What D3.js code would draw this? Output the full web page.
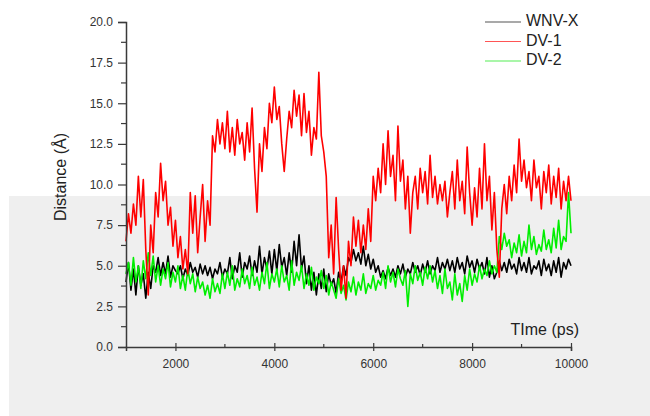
<!DOCTYPE html>
<html><head><meta charset="utf-8">
<script src="https://cdn.jsdelivr.net/npm/d3@7"></script>
<style>html,body{margin:0;padding:0;background:#fff;}svg{display:block;}</style>
</head><body>
<svg id="chart" width="650" height="416"></svg>
<script>
const tStart = 1000, tStep = 50;
const seriesNames = ["WNV-X", "DV-1", "DV-2"];
const xTicks = [2000, 4000, 6000, 8000, 10000];
const yTicks = [0, 2.5, 5, 7.5, 10, 12.5, 15, 17.5, 20];

const wnvx = [
4.0,5.2,3.5,4.8,3.2,5.0,3.8,4.5,3.0,4.6,3.6,
5.0,4.6,5.5,4.4,5.2,4.5,5.6,4.3,5.0,4.7,
4.5,5.0,4.2,4.8,4.4,5.2,4.6,4.9,4.3,5.1,
4.5,5.0,4.4,4.9,4.2,4.8,4.5,5.2,4.3,4.8,
4.5,5.5,4.2,5.0,4.6,5.8,4.3,5.2,4.8,5.6,
4.4,5.3,4.6,6.2,4.5,5.5,4.8,5.9,4.5,6.0,
4.7,6.3,4.9,5.5,4.4,5.8,4.6,6.5,5.0,6.9,
4.8,5.6,3.9,5.0,3.5,4.6,3.2,4.5,3.6,4.8,
3.4,4.5,3.8,4.2,3.3,4.6,4.0,5.0,4.4,5.5,
5.2,6.0,5.3,5.8,5.1,6.2,5.0,5.7,4.8,5.4,
4.6,5.0,4.3,4.7,4.2,4.9,4.4,4.8,4.3,5.0,
4.5,5.1,4.3,4.8,4.5,5.2,4.6,5.0,4.4,5.1,
4.6,5.3,4.5,5.0,4.7,5.5,4.6,5.2,4.8,5.4,
4.7,5.3,4.6,5.5,4.8,5.2,4.5,5.6,4.9,5.3,
4.6,5.4,4.8,5.2,4.5,5.5,4.3,5.0,4.2,4.6,
5.3,4.7,5.2,4.6,5.4,4.8,5.1,4.5,5.5,4.7,
5.2,4.6,5.5,4.5,5.0,4.8,5.3,4.4,5.4,4.7,
5.1,4.4,5.3,4.6,5.5,4.3,5.2,4.8,5.4,5.0];

const dv1 = [
6.5,8.2,7.0,8.8,7.5,10.5,8.0,10.3,6.0,3.2,7.5,
5.8,9.5,8.0,11.3,9.0,10.2,7.5,8.6,6.2,7.8,
5.5,6.8,4.8,6.0,4.5,9.5,7.0,9.3,5.8,8.0,
10.0,6.5,9.0,7.5,13.0,12.0,14.0,12.5,13.8,12.2,
14.5,12.0,13.5,11.8,14.0,12.5,13.2,11.5,13.8,12.0,
14.7,11.0,8.3,12.5,10.8,13.5,12.2,15.0,13.8,16.0,
14.0,14.8,12.5,10.8,12.8,14.5,13.5,15.8,14.2,15.5,
13.0,15.6,13.2,14.5,11.8,13.5,12.8,16.9,13.0,12.0,
10.5,5.5,7.5,4.5,9.2,6.0,3.5,5.0,3.0,6.5,
5.0,8.0,6.2,7.8,5.8,7.5,6.0,8.5,6.5,10.5,
9.0,11.0,9.5,12.5,10.0,13.3,10.5,11.8,9.0,13.6,
10.2,11.5,8.5,10.5,7.0,9.5,10.5,8.5,11.0,9.5,
10.8,8.8,11.8,9.2,10.5,8.8,10.0,9.0,10.2,8.0,
9.5,10.8,8.5,11.5,9.0,10.2,8.2,12.3,9.5,7.5,
9.8,8.0,11.0,8.5,12.5,9.0,10.5,7.2,9.5,6.0,
4.3,8.5,10.0,8.2,10.5,9.0,11.2,9.5,12.8,10.2,
11.5,9.8,10.8,9.0,11.5,9.8,10.5,8.5,10.8,9.5,
11.2,8.8,10.5,9.2,11.0,8.5,10.2,9.0,10.5,9.0];

const dv2 = [
4.5,5.2,3.8,5.5,4.0,5.0,3.6,5.3,4.2,5.8,4.4,
5.6,4.0,5.0,3.8,4.8,4.2,5.2,3.7,4.6,4.0,
5.0,3.6,4.4,3.5,4.8,3.9,4.5,3.4,4.3,3.6,
4.0,3.2,3.8,3.0,4.2,3.4,3.9,3.3,4.5,3.6,
4.6,3.8,5.0,3.5,4.2,3.7,4.8,3.9,4.4,3.6,
4.9,3.8,4.3,3.5,4.6,3.9,5.2,3.6,4.5,4.0,
4.8,3.7,5.0,4.0,4.4,3.5,5.3,3.8,4.6,4.1,
5.0,3.6,4.5,3.8,4.9,3.5,4.3,3.9,4.7,3.6,
4.4,3.2,4.0,3.5,3.0,4.2,3.3,3.8,2.9,4.0,
3.4,4.3,3.2,4.0,3.5,4.5,3.3,3.9,3.6,4.4,
3.5,4.1,3.8,4.6,3.6,5.0,4.0,4.6,3.7,4.8,
4.2,3.8,4.7,2.5,4.5,3.9,5.0,4.1,4.6,3.8,
4.9,4.2,5.0,4.0,4.7,3.6,4.4,3.3,4.8,3.6,
4.0,2.9,4.5,3.2,3.9,2.8,4.4,3.5,4.8,3.8,
4.5,4.0,5.0,4.2,4.8,4.4,5.3,4.5,5.0,4.6,
6.8,6.0,7.0,6.2,6.6,5.5,6.4,5.8,6.9,5.6,
6.5,5.8,7.5,6.0,6.8,5.7,6.3,5.9,7.2,6.0,
6.6,5.8,7.3,6.1,7.8,6.0,6.8,6.5,9.5,7.0];

const colors = ["#000000", "#ff0000", "#00ee00"];
const allSeries = [wnvx, dv1, dv2];

const svg = d3.select("#chart");
const font = "'Liberation Sans', Arial, sans-serif";

// background gray band
svg.append("rect").attr("x", 9).attr("y", 196).attr("width", 641).attr("height", 220).attr("fill", "#efefef");

const x = d3.scaleLinear().domain([1000, 10000]).range([126, 571]);
const y = d3.scaleLinear().domain([0, 20]).range([347, 22]);

const line = d3.line()
  .x((d, i) => x(tStart + i * tStep))
  .y(d => y(d));

// draw order: black, green, red
[0, 2, 1].forEach(k => {
  svg.append("path")
    .datum(allSeries[k])
    .attr("fill", "none")
    .attr("stroke", colors[k])
    .attr("stroke-width", 1.6)
    .attr("stroke-linejoin", "round")
    .attr("d", line);
});

// Y axis
const yAxis = d3.axisLeft(y).tickValues(yTicks).tickFormat(d3.format(".1f")).tickSize(8).tickPadding(5);
const gy = svg.append("g").attr("transform", "translate(126,0)").call(yAxis);
const yMinor = d3.range(1.25, 20, 2.5);
gy.selectAll(".minor").data(yMinor).enter().append("line")
  .attr("x1", -5).attr("x2", 0).attr("y1", d => y(d)).attr("y2", d => y(d));

// X axis
const xAxis = d3.axisBottom(x).tickValues(xTicks).tickFormat(d3.format("d")).tickSize(4).tickPadding(8);
const gx = svg.append("g").attr("transform", "translate(0,347)").call(xAxis);
gx.selectAll(".tick line").attr("y1", -4);
const xMinor = [3000, 5000, 7000, 9000];
gx.selectAll(".minor").data(xMinor).enter().append("line")
  .attr("y1", -3).attr("y2", 0).attr("x1", d => x(d)).attr("x2", d => x(d));

[gx, gy].forEach(g => {
  g.select(".domain").attr("stroke", "#3a3a3a").attr("stroke-width", 1.5);
  g.selectAll("line").attr("stroke", "#3a3a3a").attr("stroke-width", 1.2);
  g.selectAll("text").attr("fill", "#333").style("font-family", font).style("font-size", "12px");
});

// axis titles
svg.append("text")
  .attr("transform", "translate(62,177) rotate(-90)")
  .attr("text-anchor", "middle")
  .attr("dominant-baseline", "middle")
  .style("font-family", font).style("font-size", "16px").attr("fill", "#222")
  .text("Distance (Å)");

svg.append("text")
  .attr("x", 579).attr("y", 331)
  .attr("text-anchor", "end")
  .attr("dominant-baseline", "middle")
  .style("font-family", font).style("font-size", "16px").attr("fill", "#222")
  .text("TIme (ps)");

// legend
const legendColors = ["#555555", "#ff5555", "#55ee55"];
seriesNames.forEach((name, i) => {
  const ly = 22 + i * 19.5;
  svg.append("line").attr("x1", 485).attr("x2", 521).attr("y1", ly).attr("y2", ly)
    .attr("stroke", legendColors[i]).attr("stroke-width", 1.2);
  svg.append("text").attr("x", 526).attr("y", ly).attr("dominant-baseline", "middle")
    .style("font-family", font).style("font-size", "16px").attr("fill", "#222").text(name);
});
</script>
</body></html>
